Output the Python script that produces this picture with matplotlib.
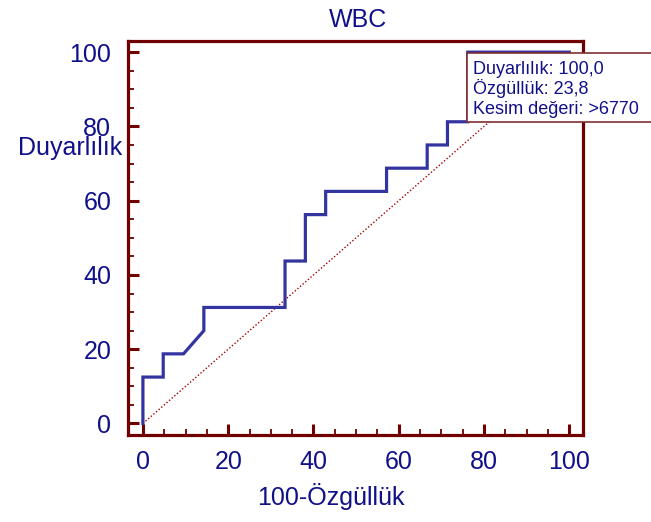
import matplotlib
matplotlib.use("Agg")
import matplotlib.pyplot as plt
from matplotlib.patches import Rectangle
from matplotlib.ticker import MultipleLocator

plt.rcParams['font.family'] = ['Liberation Sans', 'DejaVu Sans']

# ROC data (100-Specificity, Sensitivity)
fpr = [0, 0, 4.76, 4.76, 9.52, 14.29, 14.29, 33.33, 33.33, 38.10, 38.10, 42.86, 42.86,
       57.14, 57.14, 66.67, 66.67, 71.43, 71.43, 76.19, 76.19, 100]
sens = [0, 12.5, 12.5, 18.75, 18.75, 25, 31.25, 31.25, 43.75, 43.75, 56.25, 56.25, 62.5,
        62.5, 68.75, 68.75, 75, 75, 81.25, 81.25, 100, 100]
diag = [0, 100]
box_lines = ["Duyarlılık: 100,0", "Özgüllük: 23,8", "Kesim değeri: >6770"]
title = "WBC"
xlabel = "100-Özgüllük"
ylabel = "Duyarlılık"

W, H = 651, 522
navy = '#10108a'
dred = '#700000'
curve_c = '#3434a0'

fig = plt.figure(figsize=(W / 100, H / 100), dpi=100)
ax = fig.add_axes([128 / W, 1 - 435 / H, (582.5 - 128) / W, (435 - 41) / H])

ax.plot(diag, diag, color='#a00000', lw=1.0, ls=(0, (1, 1.5)), zorder=2)
ax.plot(fpr, sens, color=curve_c, lw=2.3, zorder=3, solid_joinstyle='miter')

ax.set_xlim(-3.5, 103.1)
ax.set_ylim(-3.1, 103)
ax.xaxis.set_major_locator(MultipleLocator(20))
ax.yaxis.set_major_locator(MultipleLocator(20))
ax.xaxis.set_minor_locator(MultipleLocator(5))
ax.yaxis.set_minor_locator(MultipleLocator(5))
for s in ax.spines.values():
    s.set_color(dred)
    s.set_linewidth(2.3)
ax.tick_params(which='major', direction='in', length=8, width=2.2, color=dred,
               labelcolor=navy, labelsize=18)
ax.tick_params(which='minor', direction='in', length=4.5, width=1.3, color=dred)
ax.tick_params(axis='y', which='major', pad=12)
ax.tick_params(axis='x', which='major', pad=11)

fig.text(358 / W, 1 - 20 / H, title, ha='center', va='center', color=navy, fontsize=18)
fig.text(331 / W, 1 - 497 / H, xlabel, ha='center', va='center', color=navy, fontsize=18)
fig.text(122 / W, 1 - 148 / H, ylabel, ha='right', va='center', color=navy, fontsize=18)

rect = Rectangle((467 / W, 1 - 122 / H), 200 / W, 69 / H, transform=fig.transFigure,
                 facecolor='white', edgecolor='#803030', lw=1.2, zorder=5)
fig.add_artist(rect)
for i, (line, base) in enumerate(zip(box_lines, [73.5, 94, 114.5])):
    fig.text(473 / W, 1 - base / H, line, ha='left', va='baseline', color=navy,
             fontsize=13, zorder=6)

fig.savefig('out.png', dpi=100)
